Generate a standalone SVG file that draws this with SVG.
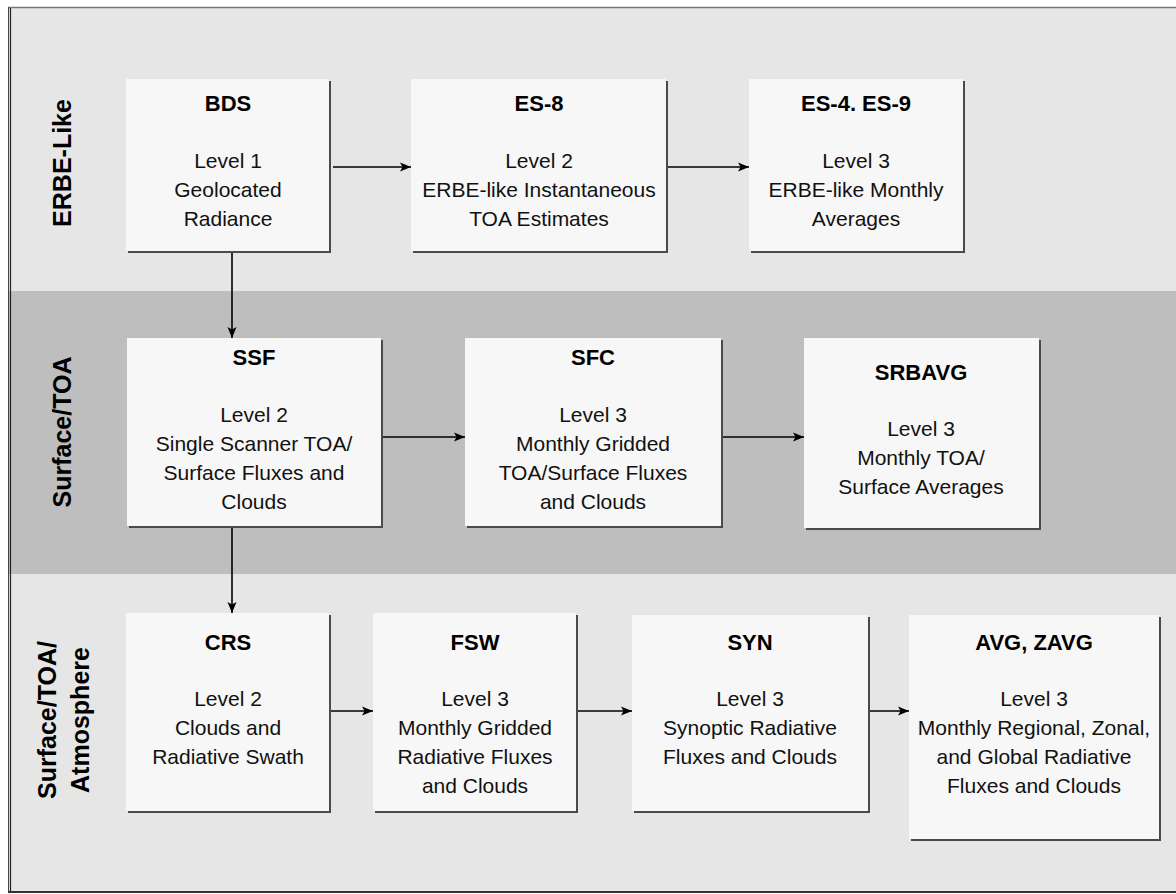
<svg xmlns="http://www.w3.org/2000/svg" width="1176" height="894" viewBox="0 0 1176 894">
<defs>
<marker id="ah" markerUnits="userSpaceOnUse" markerWidth="12" markerHeight="10" refX="11" refY="5" orient="auto">
<path d="M0,0.5 L11,5 L0,9.5 L2.5,5 Z" fill="#000"/>
</marker>
</defs>
<style>
.band1{fill:#e6e6e6}
.band2{fill:#bebebe}
.shadow{fill:#4a4a4a}
.box{fill:#f7f7f7}
.t{font-family:"Liberation Sans",Arial,sans-serif;font-size:21px;fill:#111;text-anchor:middle}
.h{font-family:"Liberation Sans",Arial,sans-serif;font-size:22px;font-weight:bold;fill:#000;text-anchor:middle}
.side{font-family:"Liberation Sans",Arial,sans-serif;font-size:25px;font-weight:bold;fill:#000;text-anchor:middle}
.conn{stroke:#000;stroke-width:1.6;fill:none;marker-end:url(#ah)}
</style>
<rect width="1176" height="894" fill="#fff"/>
<g id="bands">
<rect class="band1" x="8" y="8" width="1168" height="283"/>
<rect class="band2" x="8" y="291" width="1168" height="283"/>
<rect class="band1" x="8" y="574" width="1168" height="318"/>
<line x1="8" y1="7.5" x2="1176" y2="7.5" stroke="#777" stroke-width="1.5"/>
<line x1="8.5" y1="7" x2="8.5" y2="893" stroke="#444" stroke-width="1"/>
<line x1="10.5" y1="8" x2="10.5" y2="892" stroke="#222" stroke-width="1.2"/>
<line x1="8" y1="892" x2="1176" y2="892" stroke="#333" stroke-width="2"/>
</g>
<g id="labels">
<text class="side" transform="translate(71,163) rotate(-90)">ERBE-Like</text>
<text class="side" transform="translate(71,432) rotate(-90)">Surface/TOA</text>
<text class="side" transform="translate(56,720) rotate(-90)">Surface/TOA/</text>
<text class="side" transform="translate(89,720) rotate(-90)">Atmosphere</text>
</g>
<g id="connectors">
<line class="conn" x1="333" y1="167" x2="411" y2="167"/>
<line class="conn" x1="668" y1="167" x2="749" y2="167"/>
<line class="conn" x1="232" y1="253" x2="232" y2="338"/>
<line class="conn" x1="383" y1="437" x2="465" y2="437"/>
<line class="conn" x1="723" y1="437" x2="804" y2="437"/>
<line class="conn" x1="232" y1="528" x2="232" y2="613"/>
<line class="conn" x1="331" y1="711" x2="373" y2="711"/>
<line class="conn" x1="578" y1="711" x2="632" y2="711"/>
<line class="conn" x1="870" y1="711" x2="909" y2="711"/>
</g>
<g id="bds">
<rect class="shadow" x="128" y="81" width="203" height="172"/>
<rect class="box" x="126" y="79" width="203" height="172"/>
<text class="h" x="228" y="111">BDS</text>
<text class="t" x="228" y="167.5">Level 1</text>
<text class="t" x="228" y="196.5">Geolocated</text>
<text class="t" x="228" y="225.5">Radiance</text>
</g>
<g id="es8">
<rect class="shadow" x="413" y="81" width="255" height="172"/>
<rect class="box" x="411" y="79" width="255" height="172"/>
<text class="h" x="539" y="111">ES-8</text>
<text class="t" x="539" y="167.5">Level 2</text>
<text class="t" x="539" y="196.5">ERBE-like Instantaneous</text>
<text class="t" x="539" y="225.5">TOA Estimates</text>
</g>
<g id="es4">
<rect class="shadow" x="751" y="81" width="214" height="172"/>
<rect class="box" x="749" y="79" width="214" height="172"/>
<text class="h" x="856" y="111">ES-4. ES-9</text>
<text class="t" x="856" y="167.5">Level 3</text>
<text class="t" x="856" y="196.5">ERBE-like Monthly</text>
<text class="t" x="856" y="225.5">Averages</text>
</g>
<g id="ssf">
<rect class="shadow" x="129" y="340" width="254" height="188"/>
<rect class="box" x="127" y="338" width="254" height="188"/>
<text class="h" x="254" y="365">SSF</text>
<text class="t" x="254" y="421.5">Level 2</text>
<text class="t" x="254" y="450.5">Single Scanner TOA/</text>
<text class="t" x="254" y="479.5">Surface Fluxes and</text>
<text class="t" x="254" y="508.5">Clouds</text>
</g>
<g id="sfc">
<rect class="shadow" x="467" y="340" width="256" height="188"/>
<rect class="box" x="465" y="338" width="256" height="188"/>
<text class="h" x="593" y="365">SFC</text>
<text class="t" x="593" y="421.5">Level 3</text>
<text class="t" x="593" y="450.5">Monthly Gridded</text>
<text class="t" x="593" y="479.5">TOA/Surface Fluxes</text>
<text class="t" x="593" y="508.5">and Clouds</text>
</g>
<g id="srbavg">
<rect class="shadow" x="806" y="340" width="235" height="190"/>
<rect class="box" x="804" y="338" width="235" height="190"/>
<text class="h" x="921" y="380">SRBAVG</text>
<text class="t" x="921" y="436">Level 3</text>
<text class="t" x="921" y="465">Monthly TOA/</text>
<text class="t" x="921" y="494">Surface Averages</text>
</g>
<g id="crs">
<rect class="shadow" x="128" y="615" width="203" height="198"/>
<rect class="box" x="126" y="613" width="203" height="198"/>
<text class="h" x="228" y="650">CRS</text>
<text class="t" x="228" y="705.5">Level 2</text>
<text class="t" x="228" y="734.5">Clouds and</text>
<text class="t" x="228" y="763.5">Radiative Swath</text>
</g>
<g id="fsw">
<rect class="shadow" x="375" y="615" width="203" height="198"/>
<rect class="box" x="373" y="613" width="203" height="198"/>
<text class="h" x="475" y="650">FSW</text>
<text class="t" x="475" y="705.5">Level 3</text>
<text class="t" x="475" y="734.5">Monthly Gridded</text>
<text class="t" x="475" y="763.5">Radiative Fluxes</text>
<text class="t" x="475" y="792.5">and Clouds</text>
</g>
<g id="syn">
<rect class="shadow" x="634" y="617" width="236" height="196"/>
<rect class="box" x="632" y="615" width="236" height="196"/>
<text class="h" x="750" y="650">SYN</text>
<text class="t" x="750" y="705.5">Level 3</text>
<text class="t" x="750" y="734.5">Synoptic Radiative</text>
<text class="t" x="750" y="763.5">Fluxes and Clouds</text>
</g>
<g id="avg">
<rect class="shadow" x="911" y="617" width="250" height="224"/>
<rect class="box" x="909" y="615" width="250" height="224"/>
<text class="h" x="1034" y="650">AVG, ZAVG</text>
<text class="t" x="1034" y="705.5">Level 3</text>
<text class="t" x="1034" y="734.5">Monthly Regional, Zonal,</text>
<text class="t" x="1034" y="763.5">and Global Radiative</text>
<text class="t" x="1034" y="792.5">Fluxes and Clouds</text>
</g>
</svg>
